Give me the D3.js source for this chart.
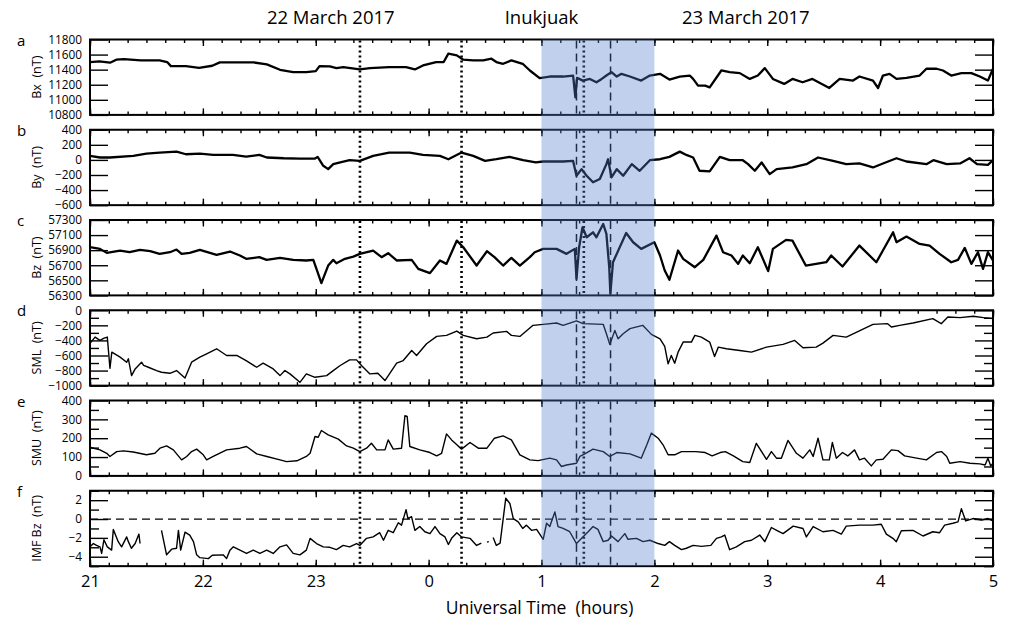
<!DOCTYPE html>
<html>
<head>
<meta charset="utf-8">
<script src="https://cdn.jsdelivr.net/npm/d3@7"></script>
<style>
  html, body { margin: 0; padding: 0; background: #fff; }
  svg { display: block; font-family: "Open Sans", sans-serif; }
  text { white-space: pre; }
</style>
</head>
<body>
<svg id="chart" width="1009" height="619"></svg>
<script>
// Time is expressed in minutes after 21:00 UT on 22 March 2017 (0 .. 480 = 05:00 UT, 23 March).
const hourTicks = [0, 60, 120, 180, 240, 300, 360, 420, 480];
const hourLabels = ["21", "22", "23", "0", "1", "2", "3", "4", "5"];

const dottedTimes = [143.5, 197.5, 262.5];   // dotted markers
const dashedTimes = [258.6, 276.7];          // dashed markers
const shadeInterval = [240, 300];            // Inukjuak interval (01:00-02:00 UT)

const panelLetters = ["a", "b", "c", "d", "e", "f"];
const panelTitles = ["Bx  (nT)", "By  (nT)", "Bz  (nT)", "SML  (nT)", "SMU  (nT)", "IMF Bz  (nT)"];

const bxData = [[0,11501],[5,11510],[10.6,11492],[14,11532],[18,11541],[27,11523],[37,11523],[41,11501],[43,11447],[51,11447],[58,11425],[65,11452],[69,11496],[76,11496],[87,11496],[94,11470],[101,11398],[108,11367],[115,11367],[120,11380],[122,11447],[127.5,11443],[131,11420],[134.6,11434],[143.4,11403],[148.8,11420],[159,11434],[168,11434],[172.7,11403],[177,11456],[184,11501],[188,11501],[190.5,11612],[195,11590],[198.4,11532],[203.7,11523],[209,11523],[213.4,11545],[216,11501],[219.6,11478],[224,11523],[230,11478],[233.8,11389],[239,11287],[244.4,11309],[251.5,11309],[256.8,11322],[258,11032],[258.9,11291],[262,11255],[265.7,11277],[269.2,11233],[272,11277],[274.5,11322],[277.2,11367],[280,11309],[282.5,11345],[287,11309],[293,11255],[297.6,11322],[303,11345],[308,11269],[313.5,11309],[318.8,11322],[320.6,11277],[323.2,11188],[327,11188],[329.4,11166],[335.6,11389],[340,11367],[345.4,11354],[350.7,11277],[355,11322],[358.7,11420],[363,11277],[369,11211],[373.4,11277],[378.8,11233],[384,11277],[393,11157],[398.5,11277],[405.6,11255],[409,11309],[416.2,11255],[418.9,11157],[421.5,11322],[425,11345],[428.7,11277],[434,11291],[441,11322],[444.6,11412],[450,11412],[453.4,11389],[457.8,11322],[463.2,11354],[468.5,11354],[473,11309],[477.3,11255],[480,11412]];

const byData = [[0,53],[5.3,32],[10.6,32],[23,53],[30,84],[37,97],[46,110],[51,75],[58.4,84],[65.5,66],[76,66],[83,44],[90,66],[94,32],[103,22],[111.6,18],[119.6,18],[121,40],[124,-78],[126.6,-122],[129.3,-56],[133,-34],[138,-4],[143.4,-13],[150.5,53],[159,97],[170,97],[177,66],[186,53],[190.5,9],[197.5,97],[203.7,53],[210,-13],[216,9],[223,40],[230.2,-4],[237,-34],[240.9,-21],[251.5,-21],[256.8,-13],[258.6,-210],[261.3,-122],[264,-210],[267.4,-297],[271,-254],[274.5,-56],[275.4,9],[277.2,-232],[280,-122],[283.4,-210],[288,-56],[292.2,-144],[297.6,-4],[303,9],[308,40],[313.5,110],[317,66],[320.6,32],[324,-144],[329.4,-153],[334.8,40],[340,-4],[347,-4],[349.8,-56],[353.4,-144],[357,-34],[361.3,-188],[365,-122],[373.4,-100],[380.8,-56],[387,32],[395,-13],[402,-56],[409,-47],[416.2,-100],[421.5,-47],[428.7,22],[434,-21],[444.6,-56],[448.3,-4],[455.4,-56],[462.5,-47],[467.5,22],[471.5,-56],[477.3,-65],[480,-4]];

const bzData = [[0,56939],[5.3,56917],[8.9,56864],[16,56895],[21,56873],[26.6,56904],[32,56886],[37,56851],[42.5,56873],[46,56908],[48.7,56851],[53,56864],[58.4,56904],[67.3,56837],[74.4,56882],[79.7,56829],[83,56785],[90,56807],[93.9,56771],[101,56798],[108,56771],[115,56763],[118.7,56771],[121.3,56586],[123,56463],[126.6,56696],[129.3,56771],[131,56727],[135.5,56785],[140,56815],[143.4,56851],[150.5,56895],[155,56807],[158.5,56860],[163,56763],[171,56771],[174.5,56652],[180.7,56595],[186,56763],[189.5,56718],[195,57027],[198.4,56939],[205.5,56696],[211,56886],[215,56807],[219.6,56696],[224,56798],[228.5,56696],[233.8,56807],[236.4,56873],[240.9,56917],[248,56917],[253.3,56851],[257.7,56917],[258.6,56520],[260,56939],[261.8,57203],[264,57071],[267.4,57137],[269.2,57071],[272.8,57247],[274.5,57115],[276,56674],[276.6,56322],[278,56740],[280,56851],[285,57128],[288.7,57005],[293,56917],[300,57005],[303,56829],[305.5,56630],[308,56507],[312.6,56895],[315.3,56785],[321.5,56674],[326,56771],[333,57093],[336.5,56873],[341,56829],[344.5,56718],[347,56829],[350.7,56727],[355,56939],[360.5,56622],[363,56917],[370,57036],[373.4,57027],[380.5,56696],[391.4,56740],[394,56829],[400,56683],[409,56961],[418,56740],[426.9,57137],[428.7,57005],[434,57080],[441,56983],[446.3,56961],[451.6,56851],[457.8,56740],[461.4,56771],[465,56930],[468.5,56718],[472,56873],[474.7,56652],[477.3,56873],[480,56763]];

const smlData = [[0,-440],[2.7,-356],[5.3,-400],[7.5,-370],[9.2,-356],[10.6,-770],[11.6,-556],[16,-622],[19.5,-689],[20.4,-644],[22.1,-867],[24,-778],[27.4,-689],[28.5,-730],[31,-756],[35.4,-800],[38,-822],[42.5,-836],[46,-800],[50.5,-898],[54,-689],[58.4,-622],[62,-578],[67.3,-511],[72.6,-600],[78,-600],[83,-667],[88.6,-756],[92,-702],[97.4,-778],[101,-867],[103.6,-800],[106.3,-844],[111.6,-956],[115,-844],[119.6,-889],[125.8,-867],[129.3,-800],[133,-733],[138,-658],[141.7,-658],[144.3,-733],[148.8,-844],[153,-836],[156.8,-933],[163,-702],[166.5,-667],[171,-533],[173.6,-600],[178.9,-444],[184.3,-347],[189.5,-333],[195,-276],[198.4,-333],[205.5,-378],[211,-356],[214.3,-302],[221.4,-280],[224,-333],[228.5,-347],[235.5,-200],[240.9,-187],[248,-169],[251.5,-200],[258.6,-142],[262,-178],[272.8,-187],[274.5,-311],[276.3,-453],[279,-267],[280.7,-378],[283.4,-311],[287,-244],[293.8,-200],[298.4,-320],[303,-380],[305.5,-480],[307.3,-711],[309,-600],[310.8,-702],[312.6,-556],[315.3,-422],[319.7,-422],[321.5,-333],[325,-356],[329.4,-422],[332,-613],[334,-489],[338.3,-511],[345.4,-533],[351.6,-556],[359.6,-489],[368.4,-453],[374.6,-400],[379,-498],[386,-489],[389.6,-436],[395,-333],[402,-356],[416.2,-187],[424,-178],[426,-222],[430.4,-200],[437.5,-169],[448,-111],[452.5,-178],[456,-89],[462.5,-98],[469.5,-80],[475,-98],[480,-111]];

const smuData = [[0,152],[5.3,138],[8.9,120],[10.6,103],[14.2,129],[17.7,133],[23,127],[30,112],[34.5,120],[37.2,147],[40.7,159],[44.3,138],[48.7,85],[51.4,103],[54,129],[56.7,142],[60.2,112],[62,85],[65.5,103],[72.6,138],[79.7,147],[83.2,156],[88.6,117],[94,103],[101,85],[104.5,76],[110,80],[115,103],[117,120],[119.6,209],[121.3,205],[123,241],[126.6,218],[132,195],[136.4,159],[140,147],[143.4,129],[147,147],[149.6,173],[152.4,138],[156.8,138],[158.5,191],[161.2,142],[165.6,147],[167.4,319],[168.6,315],[170,156],[175.3,138],[180.7,124],[184.3,106],[186.9,120],[189.5,223],[192.2,191],[195,165],[197.5,142],[202,177],[206.4,147],[211,147],[215,200],[219.6,212],[224,191],[228.5,112],[233.8,85],[238.2,81],[244.4,94],[248,85],[250.6,50],[253.3,58],[258.6,67],[260.4,103],[263,117],[267.4,142],[272.8,129],[276.3,103],[280,124],[287,117],[293,94],[296,165],[298.4,227],[302,200],[304.6,165],[307.3,112],[310.8,112],[314.4,129],[322,129],[327,124],[330.7,106],[335,124],[337.7,129],[342,106],[347,76],[350.7,71],[354.2,173],[359.6,88],[362.2,129],[364.9,94],[367.5,94],[371,188],[375.5,120],[379,94],[382.6,138],[384.4,103],[387,200],[389.6,85],[393,85],[394.6,177],[396.7,94],[400,124],[402.8,106],[406.4,138],[409,85],[411.7,94],[415.3,53],[418,85],[421.5,88],[426,138],[429.5,134],[433,106],[439.4,94],[444.6,85],[450,124],[452.6,129],[455.4,103],[457,67],[462.5,76],[467.8,67],[473,64],[475.8,58],[477.3,94],[478.8,53],[480,67]];

// IMF Bz has data gaps, marked with null values
const imfBzData = [[0,-2.95],[1.8,-2.6],[3.5,-2.8],[5.3,-2.95],[6.2,-3.65],[7.4,-2.2],[9.2,-2.95],[11.5,-3.3],[12.4,-1.1],[15,-2.4],[16.8,-2.95],[19.5,-1.9],[20.4,-2.4],[22,-3.1],[24,-2.6],[26,-1.6],[26.6,-2.6],[30,null],[38,-1.2],[40.7,-3.8],[43.4,-3.2],[46,-3.1],[47,-1.2],[48.2,-3.3],[50.5,-1.4],[53,-1.7],[55,-2.4],[56.7,-3.8],[58.4,-4.1],[62.9,-4.2],[65,-3.85],[70.8,-3.8],[72.6,-4.2],[74.4,-3.3],[76.2,-2.95],[79.7,-3.3],[83.2,-3.65],[86.8,-3.3],[90.3,-3.65],[93.9,-3.3],[97.4,-3.65],[101,-2.95],[104.5,-2.75],[108,-3.65],[111.6,-3.8],[115,-3.3],[117,-2.05],[120.4,-2.6],[124,-2.95],[127.5,-3.0],[131,-3.25],[134.6,-2.8],[138,-2.95],[141.7,-2.6],[143.4,-2.8],[147,-2.05],[150.5,-1.9],[154,-1.45],[156,-2.25],[158.5,-1.2],[161.2,-1.45],[163.9,-0.4],[165.6,-0.65],[168,1.0],[169,0.05],[170.9,0.25],[172.7,-1.2],[175.3,-0.8],[178,-1.35],[180.7,-1.55],[183.4,-0.8],[186,-1.55],[188.7,-1.9],[190.5,-2.7],[192.2,-2.05],[195,-1.45],[197.5,-1.9],[202,-2.05],[205.5,-2.8],[208,-2.55],[209.5,null],[211,-2.45],[212,-2.4],[213,null],[214.3,-1.95],[216,-2.8],[218,-2.55],[221,2.2],[223.2,1.65],[225,0.05],[227.6,-0.3],[230,-1.0],[232,-0.65],[234.7,-1.2],[237.4,-1.1],[240.9,-2.15],[242.7,-0.45],[244.4,-0.8],[247.1,0.75],[248.8,-0.8],[251.5,-1.0],[255,-1.35],[258.6,-2.6],[262,-1.9],[264.8,-1.35],[267.4,-0.8],[270,-1.1],[272.8,-2.4],[275.4,-2.25],[277.2,-1.8],[280.7,-2.4],[284.3,-1.55],[286,-2.15],[290.5,-2.05],[294,-2.4],[297.6,-2.25],[302,-2.6],[305.5,-2.8],[308,-2.4],[310.8,-2.8],[314.4,-3.25],[317,-3.1],[320.6,-2.8],[325,-2.9],[330,-2.8],[333,-2.05],[335.6,-1.9],[337.4,-1.7],[340,-3.25],[343.6,-2.95],[348,-2.4],[351.6,-2.25],[356,-1.7],[358.7,-2.4],[362.2,-0.9],[365,-1.2],[368.4,-1.55],[373.8,-0.75],[379,-1.0],[380.8,-1.9],[384.4,-0.8],[389.6,-1.35],[395,-1.2],[399.4,-1.6],[402,-0.75],[409,-0.65],[416.2,-0.65],[420.6,-0.55],[423.3,-1.6],[426.8,-2.05],[428.6,-2.4],[431.3,-1.25],[437.5,-1.2],[442.8,-1.8],[448,-1.35],[451.6,-1.45],[454.3,-0.65],[458.7,-0.45],[461.4,-0.3],[463.2,1.1],[465.5,-0.2],[469.4,0.05],[473.9,-0.1],[477.3,0.05],[480,-0.2]];

// Axis settings per panel: domain, labelled ticks, short ticks
const panelDomains = [[10800, 11800], [-600, 400], [56300, 57300], [-1000, 0], [0, 400], [-5, 3]];
const panelLabelTicks = [
  [10800, 11000, 11200, 11400, 11600, 11800],
  [-600, -400, -200, 0, 200, 400],
  [56300, 56500, 56700, 56900, 57100, 57300],
  [-1000, -800, -600, -400, -200, 0],
  [0, 100, 200, 300, 400],
  [-4, -2, 0, 2]
];
const panelMinorTicks = [
  [], [], [],
  [-900, -700, -500, -300, -100],
  [50, 150, 250, 350],
  [-5, -3, -1, 1, 3]
];
const panelSeries = [bxData, byData, bzData, smlData, smuData, imfBzData];

const svg = d3.select("#chart");
const left = 90, right = 993;
const panelTop0 = 39.5, panelStep = 90.25, panelH = 75.4;
const x = d3.scaleLinear().domain([0, 480]).range([left, right]);
const minorTimes = d3.range(0, 481, 10);
const FONT = "'Open Sans', sans-serif";

function styleAxis(g) {
  g.select(".domain").remove();
  g.selectAll(".tick line").attr("stroke", "#000").attr("stroke-width", 1.4);
  g.selectAll("text").attr("font-family", FONT).attr("fill", "#000");
}

panelSeries.forEach((data, i) => {
  const top = panelTop0 + i * panelStep;
  const bottom = top + panelH;
  const y = d3.scaleLinear().domain(panelDomains[i]).range([bottom, top]);
  const g = svg.append("g");
  const thick = i < 3;

  // labelled y ticks on the left, mirrored on the right
  const labelled = panelLabelTicks[i];
  g.append("g").attr("transform", `translate(${left},0)`)
    .call(d3.axisLeft(y).tickValues(labelled).tickSize(-18).tickPadding(8).tickFormat(d3.format("d")))
    .call(styleAxis)
    .call(a => a.selectAll("text").attr("font-size", 11.8));
  g.append("g").attr("transform", `translate(${right},0)`)
    .call(d3.axisRight(y).tickValues(labelled).tickSize(-18).tickFormat(""))
    .call(styleAxis);
  if (panelMinorTicks[i].length) {
    g.append("g").attr("transform", `translate(${left},0)`)
      .call(d3.axisLeft(y).tickValues(panelMinorTicks[i]).tickSize(-9).tickFormat(""))
      .call(styleAxis);
    g.append("g").attr("transform", `translate(${right},0)`)
      .call(d3.axisRight(y).tickValues(panelMinorTicks[i]).tickSize(-9).tickFormat(""))
      .call(styleAxis);
  }

  // time ticks on top and bottom edges
  g.append("g").attr("transform", `translate(0,${top})`)
    .call(d3.axisTop(x).tickValues(minorTimes).tickSize(-3.5).tickFormat(""))
    .call(styleAxis);
  g.append("g").attr("transform", `translate(0,${top})`)
    .call(d3.axisTop(x).tickValues(hourTicks).tickSize(-6.5).tickFormat(""))
    .call(styleAxis);
  g.append("g").attr("transform", `translate(0,${bottom})`)
    .call(d3.axisBottom(x).tickValues(minorTimes).tickSize(-3.5).tickFormat(""))
    .call(styleAxis);
  const bottomAxis = g.append("g").attr("transform", `translate(0,${bottom})`)
    .call(d3.axisBottom(x).tickValues(hourTicks).tickSize(-6.5).tickPadding(9)
      .tickFormat((d, k) => i === 5 ? hourLabels[k] : ""))
    .call(styleAxis);
  bottomAxis.selectAll("text").attr("font-size", 16.5);

  // zero reference for IMF Bz
  if (i === 5) {
    g.append("line")
      .attr("x1", left).attr("x2", right)
      .attr("y1", y(0)).attr("y2", y(0))
      .attr("stroke", "#000").attr("stroke-width", 1.3)
      .attr("stroke-dasharray", "8,5");
  }

  // event markers
  dottedTimes.forEach(t => {
    g.append("line")
      .attr("x1", x(t)).attr("x2", x(t)).attr("y1", top + 1).attr("y2", bottom - 1)
      .attr("stroke", "#000").attr("stroke-width", 2.6).attr("stroke-dasharray", "2,3");
  });
  dashedTimes.forEach(t => {
    g.append("line")
      .attr("x1", x(t)).attr("x2", x(t)).attr("y1", top + 1).attr("y2", bottom - 1)
      .attr("stroke", "#000").attr("stroke-width", 1.5).attr("stroke-dasharray", "8,5");
  });

  // data trace
  const line = d3.line()
    .defined(d => d[1] !== null)
    .x(d => x(d[0]))
    .y(d => y(d[1]));
  g.append("path")
    .datum(data)
    .attr("d", line)
    .attr("fill", "none")
    .attr("stroke", "#000")
    .attr("stroke-width", thick ? 2.3 : 1.4)
    .attr("stroke-linejoin", "round");

  // frame
  g.append("rect")
    .attr("x", left).attr("y", top)
    .attr("width", right - left).attr("height", panelH)
    .attr("fill", "none").attr("stroke", "#000").attr("stroke-width", 2);

  // panel letter and y title
  g.append("text")
    .attr("x", 17).attr("y", top + 6)
    .attr("font-family", FONT).attr("font-size", 15)
    .text(panelLetters[i]);
  g.append("text")
    .attr("transform", `translate(37,${(top + bottom) / 2}) rotate(-90)`)
    .attr("text-anchor", "middle").attr("dy", "0.35em")
    .attr("font-family", FONT).attr("font-size", 12.5)
    .text(panelTitles[i]);
});

// shaded interval overlay spanning all panels
const shadeTop = panelTop0;
const shadeBottom = panelTop0 + 5 * panelStep + panelH;
svg.append("rect")
  .attr("x", x(shadeInterval[0]))
  .attr("width", x(shadeInterval[1]) - x(shadeInterval[0]))
  .attr("y", shadeTop).attr("height", shadeBottom - shadeTop)
  .attr("fill", "rgb(80,125,205)").attr("fill-opacity", 0.36);

// headers
const headers = [
  { t: 128, label: "22 March 2017" },
  { t: 240, label: "Inukjuak" },
  { t: 348.6, label: "23 March 2017" }
];
svg.selectAll("text.header")
  .data(headers)
  .join("text")
  .attr("class", "header")
  .attr("x", d => x(d.t))
  .attr("y", 24)
  .attr("text-anchor", "middle")
  .attr("font-family", FONT)
  .attr("font-size", 18.5)
  .text(d => d.label);

svg.append("text")
  .attr("x", x(240) - 2).attr("y", 614)
  .attr("text-anchor", "middle")
  .attr("font-family", FONT)
  .attr("font-size", 17.5)
  .text("Universal Time  (hours)");
</script>
</body>
</html>
